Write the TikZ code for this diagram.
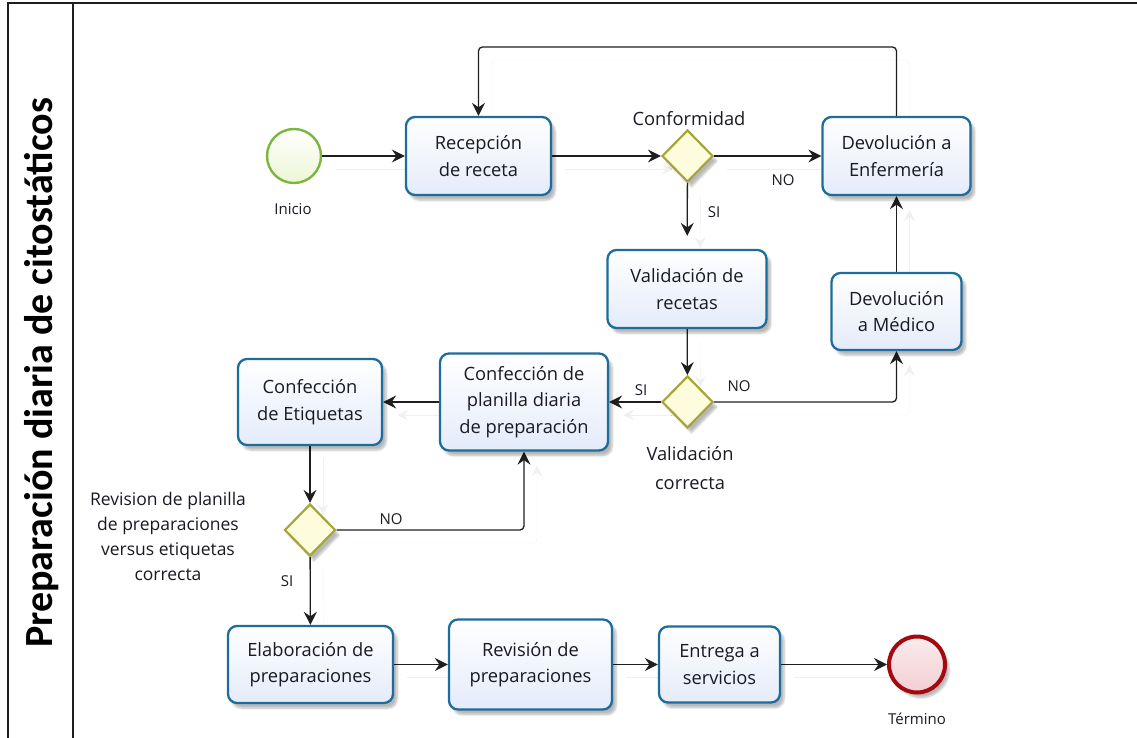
\documentclass[tikz,border=0pt]{standalone}
\usepackage{fontspec}
\setmainfont{Open Sans}
\newfontfamily\titlefont{Carlito}
\usetikzlibrary{shapes.geometric,shadows.blur,arrows.meta}
\pgfdeclarelayer{bg}
\pgfsetlayers{bg,main}

\definecolor{taskline}{RGB}{30,108,155}
\definecolor{taskfill}{RGB}{228,235,250}
\definecolor{gateline}{RGB}{166,166,56}
\definecolor{gatefill}{RGB}{253,253,222}
\definecolor{startline}{RGB}{124,182,62}
\definecolor{startfill}{RGB}{236,246,214}
\definecolor{endline}{RGB}{162,10,16}
\definecolor{endfill}{RGB}{243,206,210}
\definecolor{flowline}{RGB}{30,30,30}
\definecolor{txt}{RGB}{25,25,35}

\tikzset{
  softshadow/.style={blur shadow={shadow xshift=4pt, shadow yshift=-5pt,
      shadow blur steps=6, shadow opacity=28}},
  task/.style={draw=taskline, line width=2.3pt, rounded corners=9pt,
      top color=white, bottom color=taskfill, softshadow,
      align=center, text=txt, inner sep=0pt,
      font=\fontsize{18.3}{26.5}\selectfont},
  gate/.style={diamond, draw=gateline, line width=2.2pt, fill=gatefill,
      minimum width=51pt, minimum height=52pt, inner sep=0pt, softshadow},
  startev/.style={circle, draw=startline, line width=2.4pt,
      top color=white, bottom color=startfill, minimum size=54pt, inner sep=0pt},
  endev/.style={circle, draw=endline, line width=4pt,
      top color=endfill!40, bottom color=endfill, minimum size=56pt, inner sep=0pt,
      softshadow},
  lbl/.style={text=txt, font=\fontsize{18.3}{29}\selectfont, align=center, inner sep=0pt},
  small/.style={text=txt, font=\fontsize{15}{18}\selectfont, inner sep=0pt},
  flow/.style={draw=flowline, line width=1.3pt, rounded corners=4pt,
      -{Stealth[length=13pt, width=13pt, inset=4.5pt]},
      preaction={draw=black!6, transform canvas={shift={(13pt,-13pt)}}}},
}

\begin{document}
\begin{tikzpicture}[x=1pt, y=-1pt]
\useasboundingbox (0,0) rectangle (1137,738);

% pool frame and title band
\draw[line width=1.3pt, draw=flowline] (8,738) -- (8,3) -- (1137,3);
\draw[line width=1.2pt, draw=flowline] (73,3) -- (73,738);
\node[rotate=90, text=black, inner sep=0pt,
      font=\titlefont\bfseries\fontsize{40}{44}\selectfont] (title) at (42,373)
      {Preparación diaria de citostáticos};

% events
\node[startev] (inicio) at (294,156) {};
\node[small] (inicioL) at (293,209) {Inicio};
\node[endev] (fin) at (917,664.5) {};
\node[small] (finL) at (917,719) {Término};

% tasks
\node[task, minimum width=145pt, minimum height=78pt] (rec) at (478.5,156) {Recepción\\de receta};
\node[task, minimum width=148pt, minimum height=78pt] (enf) at (896.5,156) {Devolución a\\Enfermería};
\node[task, minimum width=159pt, minimum height=78pt] (val) at (687,289) {Validación de\\recetas};
\node[task, minimum width=130pt, minimum height=77pt] (med) at (896.5,311.5) {Devolución\\a Médico};
\node[task, minimum width=168pt, minimum height=97pt] (plan) at (524,402) {Confección de\\planilla diaria\\de preparación};
\node[task, minimum width=144pt, minimum height=86pt] (eti) at (310,402) {Confección\\de Etiquetas};
\node[task, minimum width=165pt, minimum height=77pt] (ela) at (310.5,664.5) {Elaboración de\\preparaciones};
\node[task, minimum width=163pt, minimum height=90pt] (rev) at (530.5,664.5) {Revisión de\\preparaciones};
\node[task, minimum width=121pt, minimum height=76pt] (ent) at (719.5,664.5) {Entrega a\\servicios};

% gateways
\node[gate] (g1) at (687.5,156) {};
\node[lbl] (g1L) at (689,119) {Conformidad};
\node[gate] (g2) at (687.5,402) {};
\node[lbl] (g2L) at (690,468) {Validación\\correcta};
\node[gate] (g3) at (310,530) {};
\node[lbl, font=\fontsize{17.5}{25}\selectfont] (g3L) at (168,536)
      {Revision de planilla\\de preparaciones\\versus etiquetas\\correcta};

% branch labels
\node[small] (noA) at (783,180) {NO};
\node[small] (siA) at (714,212) {SI};
\node[small] (noB) at (739,386) {NO};
\node[small] (siB) at (641,390) {SI};
\node[small] (noC) at (391,519) {NO};
\node[small] (siC) at (287,581) {SI};

\coordinate (looptop) at (0,47);

% sequence flows
\begin{pgfonlayer}{bg}
\draw[flow] (inicio) -- (rec);
\draw[flow] (rec) -- (g1);
\draw[flow] (g1) -- (enf);
\draw[flow, shorten >=13pt] (g1) -- (val);
\draw[flow] (enf.north) -- (enf.north |- looptop) -| (rec.north);
\draw[flow] (val) -- (g2);
\draw[flow] (g2.east) -| (med.south);
\draw[flow] (med) -- (enf);
\draw[flow] (g2) -- (plan);
\draw[flow] (plan) -- (eti);
\draw[flow] (eti) -- (g3);
\draw[flow] (g3.east) -| (plan.south);
\draw[flow] (g3) -- (ela);
\draw[flow] (ela) -- (rev);
\draw[flow] (rev) -- (ent);
\draw[flow] (ent) -- (fin);
\end{pgfonlayer}
\end{tikzpicture}
\end{document}
